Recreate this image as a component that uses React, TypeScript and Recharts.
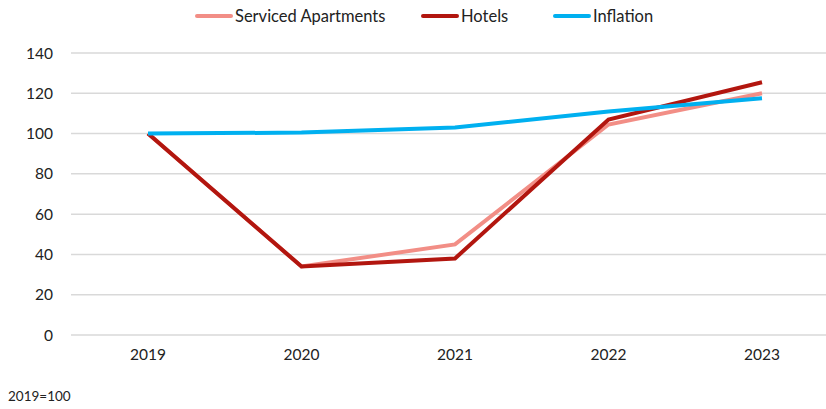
import { CartesianGrid, Line, LineChart, XAxis, YAxis } from 'recharts'

const years = ['2019', '2020', '2021', '2022', '2023']
const servicedApartments = [100, 34, 45, 104.5, 120]
const hotels = [100, 34, 38, 107, 125.5]
const inflation = [100, 100.5, 103, 111, 117.5]
const yTicks = [0, 20, 40, 60, 80, 100, 120, 140]

const data = years.map((year, i) => ({
  year,
  serviced: servicedApartments[i],
  hotels: hotels[i],
  inflation: inflation[i],
}))

const FONT = 'Lato, "Open Sans", sans-serif'

const legendItems = [
  { label: 'Serviced Apartments', color: '#F28E86', left: 195 },
  { label: 'Hotels', color: '#B2160F', left: 421 },
  { label: 'Inflation', color: '#00B0F0', left: 553 },
]

export default function App() {
  return (
    <div
      style={{
        position: 'fixed',
        left: 0,
        top: 0,
        width: 826,
        height: 409,
        overflow: 'hidden',
        background: '#fff',
        fontFamily: FONT,
      }}
    >
      <LineChart width={839} height={409} data={data} margin={{ top: 53, right: 0, bottom: 44, left: 0 }}>
        <CartesianGrid vertical={false} stroke="#D9D9D9" strokeWidth={1.5} />
        <XAxis
          dataKey="year"
          axisLine={false}
          tickLine={false}
          padding={{ left: 77, right: 77 }}
          tickMargin={8}
          tick={{ fill: '#222', fontSize: 15.5, fontFamily: FONT }}
        />
        <YAxis
          width={71}
          domain={[0, 140]}
          ticks={yTicks}
          axisLine={false}
          tickLine={false}
          tickMargin={12}
          tick={{ fill: '#222', fontSize: 15.5, fontFamily: FONT }}
        />
        <Line dataKey="serviced" stroke="#F28E86" strokeWidth={4} dot={false} isAnimationActive={false} />
        <Line dataKey="hotels" stroke="#B2160F" strokeWidth={4} dot={false} isAnimationActive={false} />
        <Line dataKey="inflation" stroke="#00B0F0" strokeWidth={4} dot={false} isAnimationActive={false} />
      </LineChart>
      {legendItems.map((item) => (
        <div
          key={item.label}
          style={{
            position: 'absolute',
            top: 6,
            left: item.left,
            display: 'flex',
            alignItems: 'center',
            fontSize: 16.5,
            color: '#222',
            whiteSpace: 'nowrap',
          }}
        >
          <span
            style={{
              display: 'inline-block',
              width: 38,
              height: 4,
              borderRadius: 2,
              background: item.color,
              marginRight: 2,
            }}
          />
          {item.label}
        </div>
      ))}
      <div style={{ position: 'absolute', left: 8, top: 388, fontSize: 13.5, color: '#222' }}>2019=100</div>
    </div>
  )
}
